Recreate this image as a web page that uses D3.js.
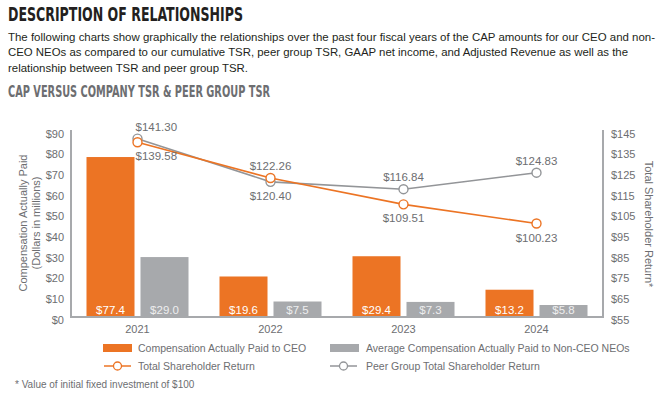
<!DOCTYPE html>
<html>
<head>
<meta charset="utf-8">
<script src="https://cdn.jsdelivr.net/npm/d3@7"></script>
<style>
  body { margin: 0; background: #fff; }
  text { font-family: "Liberation Sans", Arial, sans-serif; }
</style>
</head>
<body>
<script>

// data
const years = ["2021", "2022", "2023", "2024"];
const ceoCap = [77.4, 19.6, 29.4, 13.2];
const neoCap = [29.0, 7.5, 7.3, 5.8];
const tsr = [139.58, 122.26, 109.51, 100.23];
const peerTsr = [141.30, 120.40, 116.84, 124.83];
const leftTicks = [0, 10, 20, 30, 40, 50, 60, 70, 80, 90];
const rightTicks = [55, 65, 75, 85, 95, 105, 115, 125, 135, 145];

const orange = "#ec7424",
    barGray = "#a7a9ac",
    lineGray = "#939598",
    textGray = "#6d6e71";

const svg = d3.select("body").append("svg")
    .attr("width", 668)
    .attr("height", 399);

// heading + intro text
svg.append("text")
    .attr("x", 8).attr("y", 21)
    .attr("textLength", 235).attr("lengthAdjust", "spacingAndGlyphs")
    .style("font-family", "'Liberation Sans Narrow', 'DejaVu Sans Condensed', sans-serif")
    .style("font-weight", "bold").style("font-size", "19px")
    .style("fill", "#231f20")
    .text("DESCRIPTION OF RELATIONSHIPS");

var para = [
    ["The following charts show graphically the relationships over the past four fiscal years of the CAP amounts for our CEO and non-", 647],
    ["CEO NEOs as compared to our cumulative TSR, peer group TSR, GAAP net income, and Adjusted Revenue as well as the", 620],
    ["relationship between TSR and peer group TSR.", 240]
];
svg.selectAll(".para")
    .data(para)
    .join("text")
    .attr("class", "para")
    .attr("x", 8)
    .attr("y", (d, i) => 40.5 + i * 15.5)
    .attr("textLength", d => d[1]).attr("lengthAdjust", "spacingAndGlyphs")
    .style("font-size", "11px")
    .style("fill", "#231f20")
    .text(d => d[0]);

svg.append("text")
    .attr("x", 8).attr("y", 97)
    .attr("textLength", 262).attr("lengthAdjust", "spacingAndGlyphs")
    .style("font-family", "'Liberation Sans Narrow', 'DejaVu Sans Condensed', sans-serif")
    .style("font-weight", "bold").style("font-size", "15px")
    .style("fill", textGray)
    .text("CAP VERSUS COMPANY TSR & PEER GROUP TSR");

// scales
const plotLeft = 71, plotRight = 603, plotTop = 131, plotBottom = 317;

var x0 = d3.scaleBand()
    .domain(years)
    .range([plotLeft, plotRight])
    .paddingInner(0.233)
    .paddingOuter(0.1165);

var x1 = d3.scaleBand()
    .domain(["ceo", "neo"])
    .range([0, x0.bandwidth()])
    .paddingInner(0.111);

var yL = d3.scaleLinear().domain([0, 90]).range([plotBottom, plotTop]);
var yR = d3.scaleLinear().domain([55, 145]).range([plotBottom, plotTop]);

var cx = d => x0(d) + x0.bandwidth() / 2;

// bars
var rows = years.map((y, i) => ({year: y, ceo: ceoCap[i], neo: neoCap[i]}));

var groups = svg.selectAll(".grp")
    .data(rows)
    .join("g")
    .attr("class", "grp")
    .attr("transform", d => "translate(" + x0(d.year) + ",0)");

groups.selectAll("rect")
    .data(d => [{k: "ceo", v: d.ceo}, {k: "neo", v: d.neo}])
    .join("rect")
    .attr("x", d => x1(d.k))
    .attr("y", d => yL(d.v))
    .attr("width", x1.bandwidth())
    .attr("height", d => yL(0) - yL(d.v))
    .style("fill", d => d.k == "ceo" ? orange : barGray);

groups.selectAll(".blab")
    .data(d => [{k: "ceo", v: d.ceo}, {k: "neo", v: d.neo}])
    .join("text")
    .attr("class", "blab")
    .attr("x", d => x1(d.k) + x1.bandwidth() / 2)
    .attr("y", 314)
    .attr("text-anchor", "middle")
    .style("font-size", "11.5px")
    .style("fill", d => d.k == "ceo" ? "#fff" : "#eeeeef")
    .text(d => "$" + d.v.toFixed(1));

// axes (just lines and labels, no ticks)
svg.append("line")
    .attr("x1", plotLeft).attr("x2", plotLeft).attr("y1", 130).attr("y2", plotBottom + 1)
    .style("stroke", barGray).style("stroke-width", 2);
svg.append("line")
    .attr("x1", plotRight).attr("x2", plotRight).attr("y1", 130).attr("y2", plotBottom + 1)
    .style("stroke", barGray).style("stroke-width", 2);
svg.append("line")
    .attr("x1", plotLeft).attr("x2", plotRight + 1).attr("y1", plotBottom).attr("y2", plotBottom)
    .style("stroke", barGray).style("stroke-width", 2);

svg.selectAll(".lt")
    .data(leftTicks)
    .join("text")
    .attr("class", "lt")
    .attr("x", 64)
    .attr("y", d => yL(d) + 6.5)
    .attr("text-anchor", "end")
    .style("font-size", "11px")
    .style("fill", textGray)
    .text(d => "$" + d);

svg.selectAll(".rt")
    .data(rightTicks)
    .join("text")
    .attr("class", "rt")
    .attr("x", 611)
    .attr("y", d => yR(d) + 6.5)
    .style("font-size", "11px")
    .style("fill", textGray)
    .text(d => "$" + d);

svg.selectAll(".xt")
    .data(years)
    .join("text")
    .attr("class", "xt")
    .attr("x", cx)
    .attr("y", 333)
    .attr("text-anchor", "middle")
    .style("font-size", "11px")
    .style("fill", textGray)
    .text(d => d);

// axis titles
var lt = svg.append("text")
    .attr("transform", "translate(27,223) rotate(-90)")
    .attr("text-anchor", "middle")
    .style("font-size", "11px")
    .style("fill", textGray);
lt.append("tspan").attr("x", 0).attr("dy", 0).text("Compensation Actually Paid");
lt.append("tspan").attr("x", 0).attr("dy", 12.5).text("(Dollars in millions)");

svg.append("text")
    .attr("transform", "translate(645,224) rotate(90)")
    .attr("text-anchor", "middle")
    .style("font-size", "11px")
    .style("fill", textGray)
    .text("Total Shareholder Return*");

// lines
var line = d3.line()
    .x(d => cx(d.year))
    .y(d => yR(d.v));

var series = [
    {name: "peer", color: lineGray, pts: years.map((y, i) => ({year: y, v: peerTsr[i]}))},
    {name: "tsr", color: orange, pts: years.map((y, i) => ({year: y, v: tsr[i]}))}
];

series.forEach(s => {
    svg.append("path")
        .datum(s.pts)
        .attr("d", line)
        .style("fill", "none")
        .style("stroke", s.color)
        .style("stroke-width", 1.6);
});

series.forEach(s => {
    svg.selectAll(".pt-" + s.name)
        .data(s.pts)
        .join("circle")
        .attr("class", "pt-" + s.name)
        .attr("cx", d => cx(d.year))
        .attr("cy", d => yR(d.v))
        .attr("r", 4.5)
        .style("fill", "#fff")
        .style("stroke", s.color)
        .style("stroke-width", 1.4);
});

// point labels: higher value above, lower below
years.forEach((y, i) => {
    var hi = Math.max(tsr[i], peerTsr[i]),
        lo = Math.min(tsr[i], peerTsr[i]);
    var first = i == 0;
    [[hi, yR(hi) - 8], [lo, yR(lo) + 18]].forEach(p => {
        svg.append("text")
            .attr("x", first ? cx(y) - 2 : cx(y))
            .attr("y", p[1])
            .attr("text-anchor", first ? "start" : "middle")
            .style("font-size", "11.5px")
            .style("fill", textGray)
            .text("$" + p[0].toFixed(2));
    });
});

// legend
var lg = svg.append("g");
lg.append("rect").attr("x", 103).attr("y", 344).attr("width", 29).attr("height", 8).style("fill", orange);
lg.append("rect").attr("x", 330).attr("y", 344).attr("width", 29).attr("height", 8).style("fill", barGray);

[[104, orange], [330, lineGray]].forEach(m => {
    lg.append("line")
        .attr("x1", m[0]).attr("x2", m[0] + 27).attr("y1", 366).attr("y2", 366)
        .style("stroke", m[1]).style("stroke-width", 1.5);
    lg.append("circle")
        .attr("cx", m[0] + 13.5).attr("cy", 366).attr("r", 4)
        .style("fill", "#fff").style("stroke", m[1]).style("stroke-width", 1.3);
});

var legendText = [
    [138, 352, "Compensation Actually Paid to CEO"],
    [366, 352, "Average Compensation Actually Paid to Non-CEO NEOs"],
    [138, 370, "Total Shareholder Return"],
    [366, 370, "Peer Group Total Shareholder Return"]
];
lg.selectAll(".lgt")
    .data(legendText)
    .join("text")
    .attr("class", "lgt")
    .attr("x", d => d[0])
    .attr("y", d => d[1])
    .style("font-size", "10.5px")
    .style("fill", textGray)
    .text(d => d[2]);

svg.append("text")
    .attr("x", 15).attr("y", 388)
    .style("font-size", "10px")
    .style("fill", textGray)
    .text("* Value of initial fixed investment of $100");

</script>
</body>
</html>
